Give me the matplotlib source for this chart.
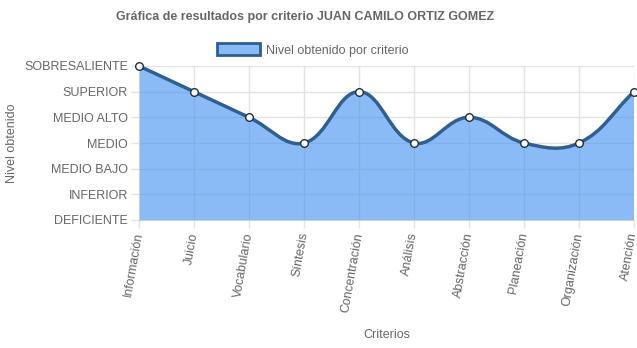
import numpy as np
import matplotlib
matplotlib.use("Agg")
import matplotlib.pyplot as plt
from matplotlib.path import Path
from matplotlib.patches import PathPatch, Patch

plt.rcParams['font.family'] = ['Liberation Sans', 'DejaVu Sans']

# Datos
criterios = ['Información', 'Juicio', 'Vocabulario', 'Síntesis', 'Concentración',
             'Análisis', 'Abstracción', 'Planeación', 'Organización', 'Atención']
niveles = ['DEFICIENTE', 'INFERIOR', 'MEDIO BAJO', 'MEDIO', 'MEDIO ALTO',
           'SUPERIOR', 'SOBRESALIENTE']
valores = [6, 5, 4, 3, 5, 3, 4, 3, 3, 5]

titulo = 'Gráfica de resultados por criterio JUAN CAMILO ORTIZ GOMEZ'
leyenda = 'Nivel obtenido por criterio'

gris = '#666666'
relleno = (0.24, 0.56, 0.94, 0.6)
linea = '#2f5e91'

fig = plt.figure(figsize=(6.37, 3.48), dpi=100)
ax = fig.add_axes([139 / 637, 1 - 220 / 348, 495 / 637, 154 / 348])

x = np.arange(len(valores))
y = np.array(valores, dtype=float)

# Curva tipo Chart.js (tension 0.4), calculada en pixeles
sx = 495 / (len(x) - 1)
sy = 154 / (len(niveles) - 1)
px, py = x * sx, y * sy
t = 0.4
cp_prev, cp_next = [], []
for i in range(len(x)):
    a = max(i - 1, 0)
    b = min(i + 1, len(x) - 1)
    d01 = np.hypot(px[i] - px[a], py[i] - py[a])
    d12 = np.hypot(px[b] - px[i], py[b] - py[i])
    s01 = d01 / (d01 + d12)
    s12 = d12 / (d01 + d12)
    fa, fb = t * s01, t * s12
    dx, dy = px[b] - px[a], py[b] - py[a]
    cp_prev.append(((px[i] - fa * dx) / sx, (py[i] - fa * dy) / sy))
    cp_next.append(((px[i] + fb * dx) / sx, (py[i] + fb * dy) / sy))

verts = [(x[0], y[0])]
codes = [Path.MOVETO]
for i in range(1, len(x)):
    verts += [cp_next[i - 1], cp_prev[i], (x[i], y[i])]
    codes += [Path.CURVE4] * 3

fill_verts = verts + [(x[-1], 0), (x[0], 0), (x[0], y[0])]
fill_codes = codes + [Path.LINETO, Path.LINETO, Path.CLOSEPOLY]
ax.add_patch(PathPatch(Path(fill_verts, fill_codes), facecolor=relleno,
                       edgecolor='none', zorder=2))
ax.add_patch(PathPatch(Path(verts, codes), facecolor='none', edgecolor=linea,
                       lw=2.5, zorder=3))
ax.plot(x, y, 'o', ms=5.5, mfc='white', mec='#1f2f40', mew=1, zorder=4,
        clip_on=False)

ax.set_xlim(0, len(x) - 1)
ax.set_ylim(0, len(niveles) - 1)
ax.set_xticks(x)
ax.set_xticklabels(criterios, rotation=80, ha='right', va='center',
                   rotation_mode='anchor', fontsize=9, color=gris)
ax.set_yticks(range(len(niveles)))
ax.set_yticklabels(niveles, fontsize=9, color=gris)
ax.tick_params(axis='both', length=6, width=1, color='#e3e3e3', pad=2)
ax.tick_params(axis='x', pad=3)
ax.grid(True, color='#e3e3e3', lw=1)
ax.set_axisbelow(True)
for s in ['top', 'right']:
    ax.spines[s].set_visible(False)
for s in ['left', 'bottom']:
    ax.spines[s].set_color('#cfcfcf')
ax.set_facecolor('white')

ax.set_xlabel('Criterios', fontsize=9, color=gris)
ax.xaxis.set_label_coords(0.5, -(329 - 220) / 154)
ax.set_ylabel('Nivel obtenido', fontsize=9, color=gris)
ax.yaxis.set_label_coords(-(139 - 18) / 495, 0.5)

fig.text(305 / 637, 1 - 17 / 348, titulo, ha='center', va='center',
         fontsize=9, fontweight='bold', color=gris)

handle = Patch(facecolor='#88bbf5', edgecolor=linea, lw=2)
fig.legend([handle], [leyenda], loc='center', bbox_to_anchor=(313 / 637, 1 - 50 / 348),
           frameon=False, fontsize=9, labelcolor=gris, handlelength=3.4,
           handleheight=1.1, handletextpad=0.5)

fig.savefig('out.png', dpi=100)
